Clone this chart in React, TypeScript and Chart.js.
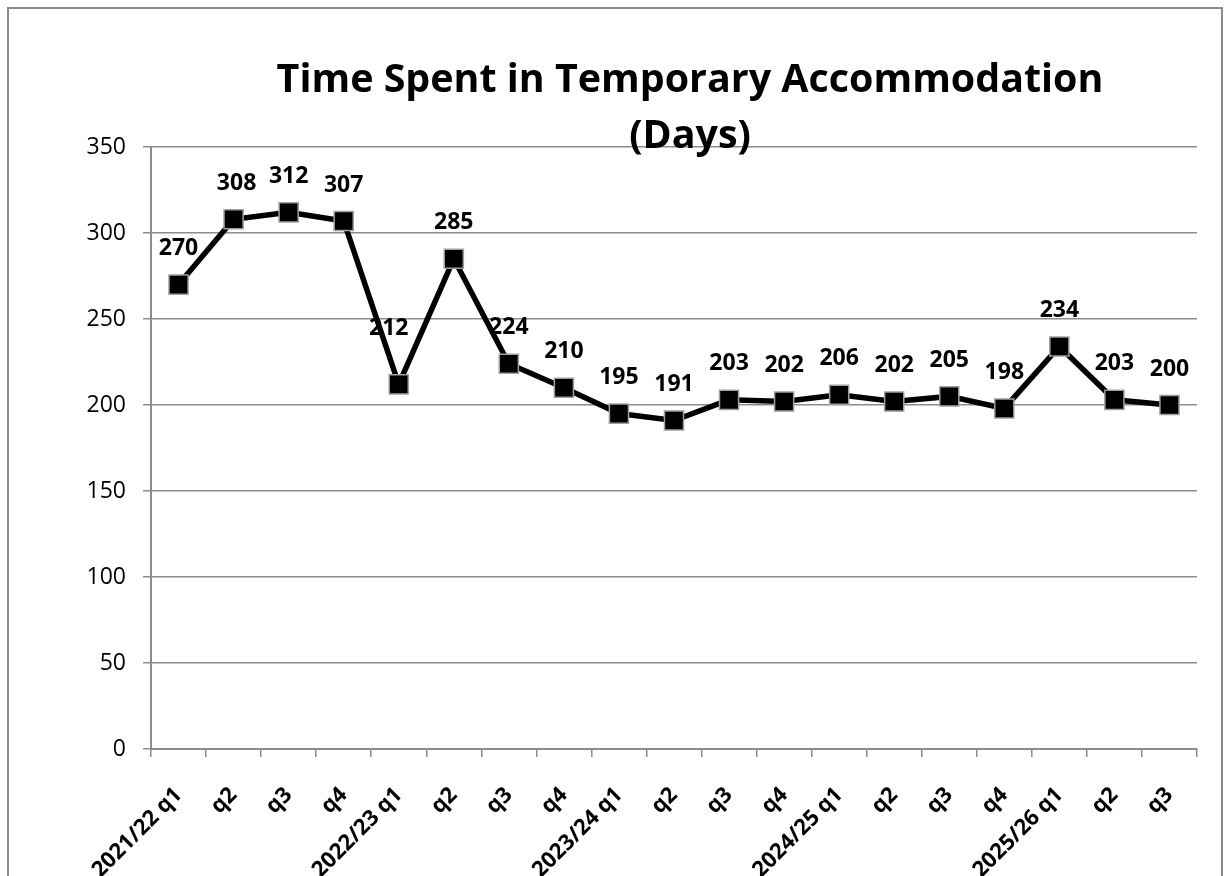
import React, { useEffect, useRef } from "react";
import { Chart, registerables } from "chart.js";

Chart.register(...registerables);

const categories = [
  "2021/22 q1", "q2", "q3", "q4",
  "2022/23 q1", "q2", "q3", "q4",
  "2023/24 q1", "q2", "q3", "q4",
  "2024/25 q1", "q2", "q3", "q4",
  "2025/26 q1", "q2", "q3",
];

const daysValues = [270, 308, 312, 307, 212, 285, 224, 210, 195, 191, 203, 202, 206, 202, 205, 198, 234, 203, 200];

const yTicks = [0, 50, 100, 150, 200, 250, 300, 350];

const titleLines = ["Time Spent in Temporary Accommodation", "(Days)"];

const FONT = "'Open Sans', 'Noto Sans', sans-serif";
const GRID = "#8c8c8c";

const valueLabelPlugin = {
  id: "valueLabels",
  afterDatasetsDraw(chart: any) {
    const ctx = chart.ctx;
    const meta = chart.getDatasetMeta(0);
    ctx.save();
    ctx.font = `bold 23px ${FONT}`;
    ctx.fillStyle = "#000";
    ctx.textAlign = "center";
    ctx.textBaseline = "middle";
    meta.data.forEach((pt: any, i: number) => {
      const v = chart.data.datasets[0].data[i];
      const off = i === 4 ? 56 : 36;
      const dx = i === 4 ? -10 : i === 1 ? 3 : 0;
      ctx.fillText(String(v), pt.x + dx, pt.y - off);
    });
    ctx.restore();
  },
};

const titlePlugin = {
  id: "customTitle",
  afterDraw(chart: any) {
    const ctx = chart.ctx;
    ctx.save();
    ctx.fillStyle = "#000";
    ctx.textAlign = "center";
    ctx.textBaseline = "alphabetic";
    ctx.font = `bold 40px ${FONT}`;
    const w = ctx.measureText(titleLines[0]).width;
    const size = 40 * (827 / w);
    ctx.font = `bold ${size}px ${FONT}`;
    ctx.fillText(titleLines[0], 681, 83);
    ctx.fillText(titleLines[1], 681, 139);
    ctx.restore();
  },
};

export default function App() {
  const ref = useRef<HTMLCanvasElement>(null);

  useEffect(() => {
    if (!ref.current) return;
    const chart = new Chart(ref.current, {
      type: "line",
      data: {
        labels: categories,
        datasets: [
          {
            data: daysValues,
            borderColor: "#000",
            borderWidth: 5.5,
            tension: 0,
            pointStyle: "rect",
            pointRadius: 13.5,
            pointHoverRadius: 13.5,
            pointBackgroundColor: "#000",
            pointBorderColor: "#a0a0a0",
            pointBorderWidth: 1.5,
            fill: false,
          },
        ],
      },
      options: {
        responsive: false,
        animation: false,
        events: [],
        layout: { padding: { left: 0, right: 24, top: 138, bottom: 0 } },
        plugins: {
          legend: { display: false },
          title: { display: false },
          tooltip: { enabled: false },
        },
        scales: {
          x: {
            type: "category",
            offset: true,
            grid: {
              offset: true,
              drawOnChartArea: false,
              drawTicks: true,
              tickLength: 8,
              color: GRID,
              lineWidth: 1.5,
            },
            border: { display: true, color: GRID, width: 2 },
            ticks: {
              autoSkip: false,
              maxRotation: 45,
              minRotation: 45,
              color: "#000",
              padding: 25,
              font: { family: FONT, size: 22, weight: "bold" },
            },
            afterFit(scale: any) {
              scale.height = 127;
            },
          },
          y: {
            min: 0,
            max: 350,
            afterBuildTicks(scale: any) {
              scale.ticks = yTicks.map((v) => ({ value: v }));
            },
            grid: {
              drawTicks: true,
              tickLength: 8,
              color: GRID,
              lineWidth: 1.5,
            },
            border: { display: true, color: GRID, width: 2 },
            ticks: {
              color: "#000",
              padding: 17,
              font: { family: FONT, size: 23 },
            },
            afterFit(scale: any) {
              scale.width = 142;
            },
          },
        },
      },
      plugins: [valueLabelPlugin, titlePlugin],
    } as any);
    return () => chart.destroy();
  }, []);

  return (
    <div
      style={{
        position: "fixed",
        left: 7,
        top: 7,
        width: 1212,
        height: 880,
        borderLeft: "2px solid #8c8c8c",
        borderTop: "2px solid #8c8c8c",
        borderRight: "2px solid #8c8c8c",
        background: "#fff",
        overflow: "hidden",
      }}
    >
      <canvas ref={ref} width={1212} height={867} style={{ display: "block" }} />
    </div>
  );
}
